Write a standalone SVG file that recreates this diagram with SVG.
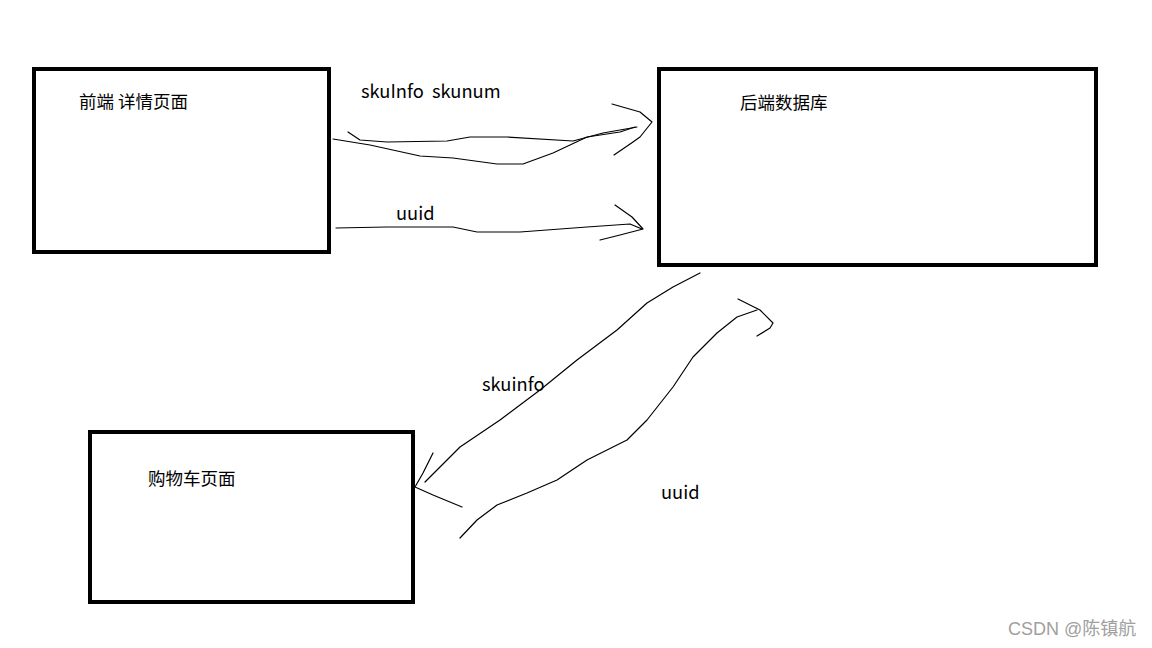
<svg xmlns="http://www.w3.org/2000/svg" width="1152" height="648" viewBox="0 0 1152 648">
<style>
.box{fill:#fff;stroke:#000;stroke-width:4}
.t{font-family:"Microsoft YaHei","Noto Sans CJK SC","Liberation Sans",sans-serif;font-size:17.5px;fill:#000;white-space:pre}
.s{font-size:18.3px}
.l{fill:none;stroke:#000;stroke-width:1.2;stroke-linejoin:round;stroke-linecap:round}
.wm{font-family:"Liberation Sans","Noto Sans CJK SC",sans-serif;font-size:18px;fill:#a0a0a0}
</style>
<rect width="1152" height="648" fill="#fff"/>
<g id="frontend">
<rect class="box" x="34" y="69" width="295" height="183"/>
<text class="t" x="79" y="108">前端 详情页面</text>
</g>
<g id="backend">
<rect class="box" x="659" y="69" width="437" height="196"/>
<text class="t" x="740" y="109">后端数据库</text>
</g>
<g id="cart">
<rect class="box" x="90" y="432" width="323" height="170"/>
<text class="t" x="148" y="485">购物车页面</text>
</g>
<g id="connectors">
<path class="l" d="M348,132 L360,140 L387,142 L447,141 L470,137 L507,137 L573,141 L603,133 L637,127"/>
<path class="l" d="M333,139 L370,145 L420,156 L453,158 L497,164 L523,164 L553,153 L587,137 L620,132 L635,127"/>
<path class="l" d="M612,104 L640,112 L652,122 L640,137 L633,142 L614,155"/>
<path class="l" d="M336,228 L387,227 L453,227 L477,232 L520,232 L587,227 L630,224 L642,229"/>
<path class="l" d="M615,205 L632,217 L643,229 L620,235 L600,240"/>
<path class="l" d="M700,273 L673,287 L647,303 L617,330 L577,360 L540,390 L500,420 L460,447 L425,482"/>
<path class="l" d="M433,453 L423,473 L415,487 L433,495 L462,507"/>
<path class="l" d="M460,538 L477,520 L497,505 L527,493 L557,480 L587,460 L627,440 L647,420 L673,387 L693,357 L717,333 L737,317 L757,310"/>
<path class="l" d="M738,299 L760,310 L773,323 L770,328 L757,336"/>
</g>
<g id="labels">
<text class="t s" x="361" y="98" xml:space="preserve">skuInfo  skunum</text>
<text class="t s" x="396" y="220">uuid</text>
<text class="t s" x="482" y="391">skuinfo</text>
<text class="t s" x="661" y="499">uuid</text>
</g>
<text class="wm" x="1008" y="635">CSDN @陈镇航</text>
</svg>
